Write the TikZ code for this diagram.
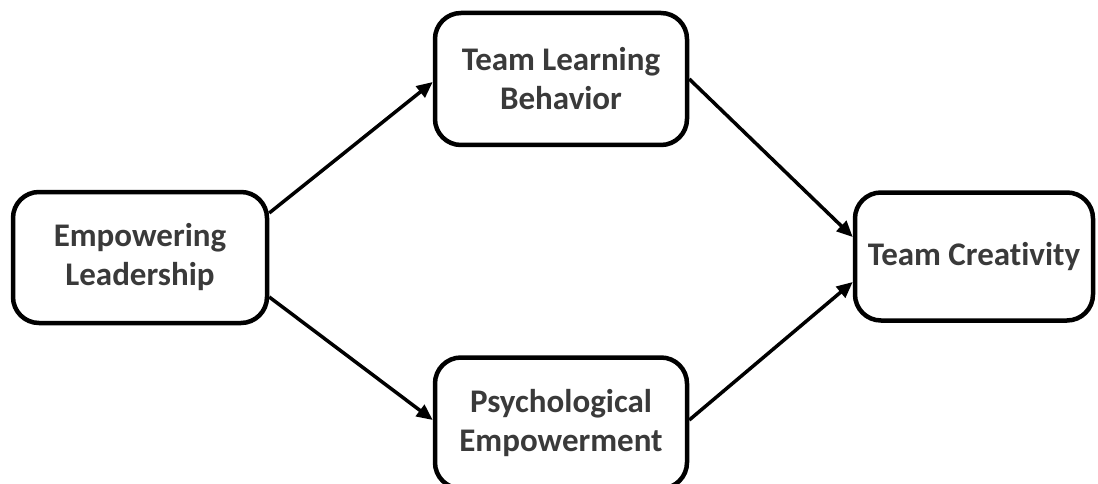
\documentclass[tikz,border=0pt]{standalone}
\usepackage{fontspec}
\setmainfont[Ligatures=NoCommon]{Carlito}
\usetikzlibrary{arrows.meta}
\definecolor{labeltext}{HTML}{3A3A3A}
\begin{document}
\begin{tikzpicture}[x=1pt,y=-1pt,
  box/.style={draw=black, line width=4.5pt, rounded corners=26pt, fill=white,
    align=center, text=labeltext, inner sep=0pt,
    font=\fontsize{33}{39}\selectfont\bfseries,
    execute at begin node={\vspace*{6pt}}},
  link/.style={line width=3.5pt, -{Triangle[length=16pt,width=14pt]}}]
  \useasboundingbox (0,0) rectangle (1098,484);
  \clip (0,0) rectangle (1098,484);
  \node[box, minimum width=254pt, minimum height=131pt] (el) at (140,257.5) {Empowering\\Leadership};
  \node[box, minimum width=252pt, minimum height=132pt] (tlb) at (561,79) {Team Learning\\Behavior};
  \node[box, minimum width=252pt, minimum height=131pt] (pe) at (561,423) {Psychological\\Empowerment};
  \node[box, minimum width=238pt, minimum height=128pt] (tc) at (974,256.5) {Team Creativity};
  \draw[link] ([yshift=44.5pt]el.east) -- ([yshift=-3pt]tlb.west);
  \draw[link] ([yshift=-39.5pt]el.east) -- ([yshift=3pt]pe.west);
  \draw[link] (tlb.east) -- ([yshift=19.5pt]tc.west);
  \draw[link] ([yshift=3pt]pe.east) -- ([yshift=-25.5pt]tc.west);
\end{tikzpicture}
\end{document}
